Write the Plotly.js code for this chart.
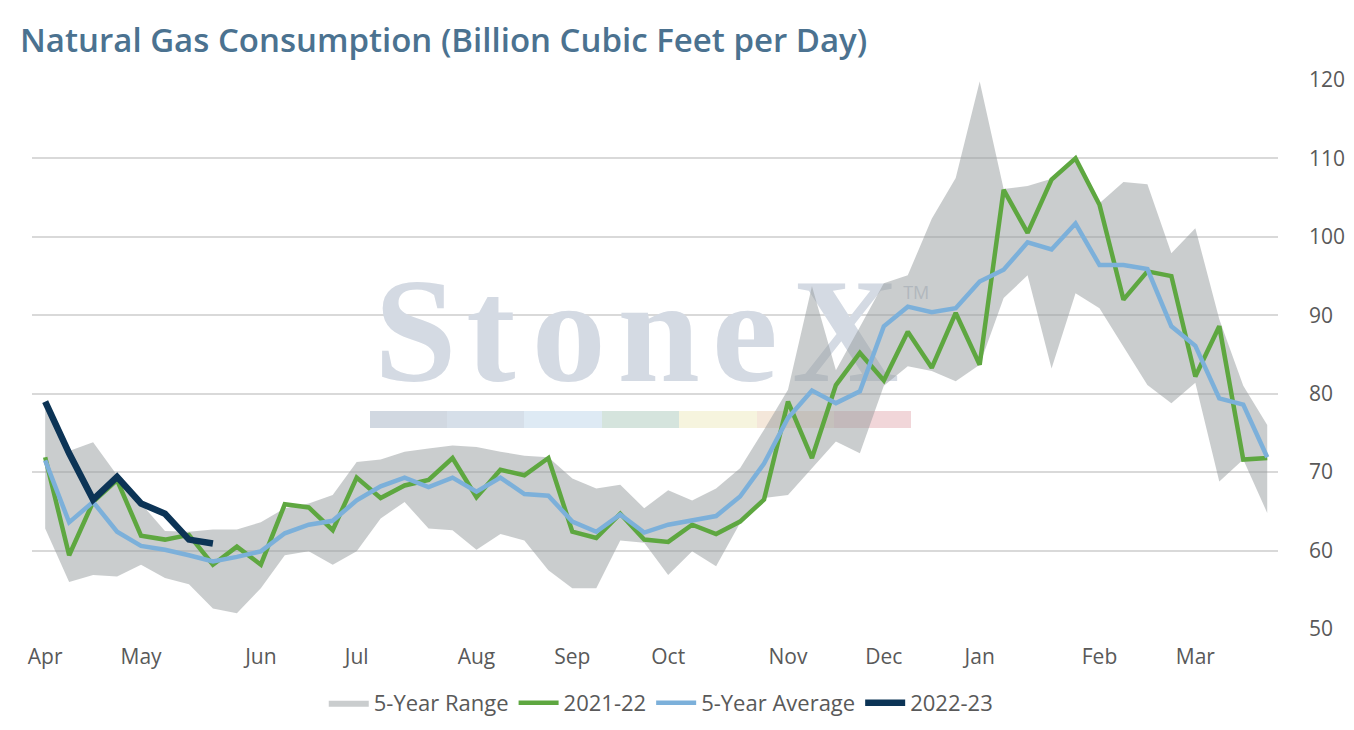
<!DOCTYPE html>
<html>
<head>
<meta charset="utf-8">
<script src="https://cdn.plot.ly/plotly-3.0.1.min.js"></script>
<style>html,body{margin:0;padding:0;background:#fff;}#chart{width:1354px;height:730px;}</style>
</head>
<body>
<div id="chart"></div>
<script>
// Month tick labels and the week index where each sits
const monthLabels = ["Apr","May","Jun","Jul","Aug","Sep","Oct","Nov","Dec","Jan","Feb","Mar"];
const monthWeeks  = [0, 4, 9, 13, 18, 22, 26, 31, 35, 39, 44, 48];

// 5-Year Range (lower / upper bound), weekly
const rangeLow = [62.8,56.0,56.9,56.7,58.2,56.5,55.7,52.6,52.0,55.2,59.4,59.9,58.2,59.9,64.1,66.2,62.8,62.6,60.1,62.1,
  61.3,57.5,55.2,55.2,61.3,61.0,56.9,59.9,58.0,63.5,66.7,67.1,70.5,73.9,72.4,81.0,83.5,82.9,81.6,83.7,
  92.2,95.1,83.2,92.8,90.9,86.0,81.1,78.8,81.4,68.8,71.6,64.8];
const rangeHigh = [78.0,72.7,73.8,69.6,66.0,62.5,62.4,62.7,62.7,63.6,65.4,66.0,67.1,71.3,71.6,72.6,73.0,73.4,73.2,72.6,
  72.1,71.9,69.2,67.9,68.4,65.4,67.7,66.4,67.9,70.5,75.4,80.5,93.7,83.0,88.5,94.1,95.1,102.3,107.5,119.8,
  106.1,106.5,107.4,110.1,104.3,107.0,106.7,97.9,101.1,89.5,81.0,76.0];

// 2021-22 weekly consumption
const season2122 = [71.9,59.4,66.2,69.0,61.9,61.4,62.0,58.2,60.5,58.2,65.9,65.5,62.6,69.3,66.7,68.3,69.0,71.8,66.8,70.3,
  69.6,71.8,62.4,61.6,64.7,61.4,61.1,63.3,62.1,63.7,66.5,79.0,71.8,81.1,85.2,81.7,87.9,83.3,90.3,83.7,
  106.0,100.5,107.3,110.0,104.1,92.0,95.6,95.0,82.2,88.6,71.6,71.8];

// 5-Year Average
const fiveYearAvg = [71.5,63.6,66.2,62.4,60.6,60.1,59.4,58.6,59.2,59.9,62.2,63.3,63.8,66.4,68.2,69.3,68.1,69.3,67.5,69.3,
  67.2,67.0,63.7,62.4,64.6,62.3,63.3,63.9,64.4,66.9,71.1,76.9,80.4,78.8,80.3,88.6,91.1,90.4,90.9,94.3,
  95.8,99.3,98.4,101.7,96.4,96.4,95.9,88.6,86.1,79.4,78.6,71.9];

// 2022-23 (to date)
const season2223 = [79.0,72.4,66.5,69.4,66.0,64.7,61.4,60.9];

// Watermark letters (decoration only)
const watermarkLetters = ["S","t","o","n","e","X"];
const watermarkSpots = [15.45, 18.6, 21.85, 25.6, 29.2, 33.4];

const weeks = rangeLow.map((_, i) => i);
const font = "'Open Sans', 'Noto Sans', sans-serif";

const traces = [
  { // watermark text (decoration)
    x: watermarkSpots, y: watermarkSpots.map(() => 86.4), mode: "text", text: watermarkLetters,
    textposition: "middle center",
    textfont: {family: "'Liberation Serif', 'DejaVu Serif', serif", size: 148, color: "#d4dae3", weight: 700},
    showlegend: false, hoverinfo: "skip", cliponaxis: false
  },
  {
    x: [36.35], y: [92.7], mode: "text", text: ["TM"],
    textposition: "middle center",
    textfont: {family: font, size: 18, color: "#cdd3dc"},
    showlegend: false, hoverinfo: "skip", cliponaxis: false
  },
  {
    x: weeks, y: rangeLow, mode: "lines", line: {width: 0, color: "rgba(0,0,0,0)"},
    showlegend: false, hoverinfo: "skip", name: "low"
  },
  {
    x: weeks, y: rangeHigh, mode: "lines", fill: "tonexty",
    fillcolor: "rgba(150,155,157,0.5)", line: {width: 0, color: "rgba(0,0,0,0)"},
    name: "5-Year Range"
  },
  {
    x: weeks, y: season2122, mode: "lines", name: "2021-22",
    line: {color: "#5ea740", width: 4.5}
  },
  {
    x: weeks, y: fiveYearAvg, mode: "lines", name: "5-Year Average",
    line: {color: "#7cb0da", width: 4.5}
  },
  {
    x: weeks.slice(0, season2223.length), y: season2223, mode: "lines", name: "2022-23",
    line: {color: "#0c3456", width: 6.5}
  }
];

const barColors = ["#d1d8e1","#d6dfe9","#deeaf4","#d5e4dd","#f6f4de","#f4e7da","#f1d6d9"];
const barEdges = [370, 447, 524, 602, 679, 757, 834, 911];
const shapes = barColors.map((c, k) => ({
  type: "rect", xref: "paper", yref: "paper", layer: "below",
  x0: (barEdges[k] - 32) / 1246, x1: (barEdges[k + 1] - 32) / 1246,
  y0: (629 - 428) / 549, y1: (629 - 411) / 549,
  fillcolor: c, line: {width: 0}
}));

const layout = {
  width: 1354, height: 730,
  paper_bgcolor: "#ffffff", plot_bgcolor: "#ffffff",
  margin: {l: 32, r: 76, t: 80, b: 101},
  font: {family: font, size: 21, color: "#595959"},
  title: {
    text: "Natural Gas Consumption (Billion Cubic Feet per Day)",
    font: {family: font, size: 33, color: "#4b7290", weight: 600},
    xref: "container", yref: "container",
    x: 20 / 1354, xanchor: "left", y: 1 - 40 / 730, yanchor: "middle"
  },
  xaxis: {
    type: "linear", range: [-0.55, 51.45],
    tickmode: "array", tickvals: monthWeeks, ticktext: monthLabels,
    showgrid: false, zeroline: false, showline: false, ticks: "",
    ticklabelstandoff: 13,
    tickfont: {family: font, size: 21, color: "#595959"},
    fixedrange: true
  },
  yaxis: {
    side: "right", range: [50, 120], tickvals: [50,60,70,80,90,100,110,120],
    showgrid: true, gridcolor: "#d9d9d9", gridwidth: 2,
    zeroline: false, showline: false, ticks: "",
    ticklabelstandoff: 30,
    tickfont: {family: font, size: 21, color: "#595959"},
    fixedrange: true
  },
  showlegend: true,
  legend: {
    orientation: "h", xref: "container", yref: "container",
    x: 0.488, xanchor: "center", y: 1 - 703 / 730, yanchor: "middle",
    font: {family: font, size: 22, color: "#595959"},
    traceorder: "normal", itemwidth: 40
  },
  shapes: shapes
};

Plotly.newPlot("chart", traces, layout, {displayModeBar: false, staticPlot: true});
</script>
</body>
</html>
